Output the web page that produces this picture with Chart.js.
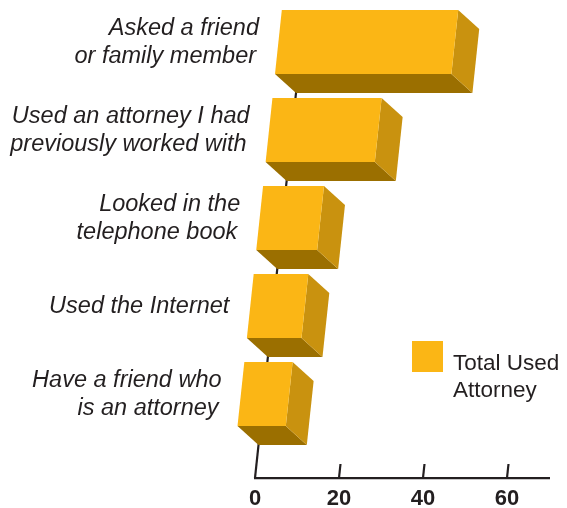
<!DOCTYPE html>
<html>
<head>
<meta charset="utf-8">
<script src="https://cdn.jsdelivr.net/npm/chart.js@4/dist/chart.umd.min.js"></script>
<style>
  body { margin: 0; background: #fff; }
  #wrap { width: 567px; height: 508px; }
</style>
</head>
<body>
<div id="wrap"><canvas id="chart" width="567" height="508"></canvas></div>
<script>
const categories = [
  ['Asked a friend', 'or family member'],
  ['Used an attorney I had', 'previously worked with'],
  ['Looked in the', 'telephone book'],
  ['Used the Internet'],
  ['Have a friend who', 'is an attorney']
];
const usedAttorney = [42, 26, 14.5, 13, 11.5];
const xTicks = [0, 20, 40, 60];
const seriesName = ['Total Used', 'Attorney'];

const frontColor = '#fbb615';
const sideColor = '#c9920f';
const bottomColor = '#9b6f00';
const inkColor = '#231f20';
const slant = 0.1065;   // how much the value axis leans to the right going up
const depth = { x: -21, y: -19 };
const lift = 21;

// draws the bars as boxes and the slanted axis
const boxPlugin = {
  id: 'box3d',
  beforeDatasetDraw() { return false; },
  afterDatasetsDraw(chart) {
    const ctx = chart.ctx;
    const area = chart.chartArea;
    const xScale = chart.scales.x;
    const floorY = area.bottom;
    const sx = y => slant * (floorY - y);
    const zero = xScale.getPixelForValue(0);

    ctx.save();
    ctx.strokeStyle = inkColor;
    ctx.lineWidth = 2.2;
    ctx.beginPath();
    ctx.moveTo(zero, floorY);
    ctx.lineTo(zero + sx(area.top), area.top);
    ctx.stroke();
    xTicks.slice(1).forEach(v => {
      const px = xScale.getPixelForValue(v);
      ctx.beginPath();
      ctx.moveTo(px, floorY);
      ctx.lineTo(px + sx(floorY - 14), floorY - 14);
      ctx.stroke();
    });

    const meta = chart.getDatasetMeta(0);
    meta.data.forEach((el, i) => {
      const p = el.getProps(['x', 'y', 'base', 'height'], true);
      const yb = p.y + p.height / 2 - lift;
      const yt = yb - p.height;
      const bbl = [p.base + sx(yb), yb], bbr = [p.x + sx(yb), yb];
      const btr = [p.x + sx(yt), yt], btl = [p.base + sx(yt), yt];
      const f = pt => [pt[0] + depth.x, pt[1] + depth.y];
      const fbl = f(bbl), fbr = f(bbr), ftr = f(btr), ftl = f(btl);
      const face = (pts, color) => {
        ctx.beginPath();
        ctx.moveTo(pts[0][0], pts[0][1]);
        pts.slice(1).forEach(q => ctx.lineTo(q[0], q[1]));
        ctx.closePath();
        ctx.fillStyle = color;
        ctx.fill();
      };
      face([fbl, fbr, bbr, bbl], bottomColor);
      face([ftr, btr, bbr, fbr], sideColor);
      face([ftl, ftr, fbr, fbl], frontColor);

      // category label, right aligned along the slanted front edge
      const lines = chart.data.labels[i];
      ctx.fillStyle = inkColor;
      ctx.font = 'italic 23.5px "Liberation Sans", Arial, sans-serif';
      ctx.textAlign = 'right';
      ctx.textBaseline = 'alphabetic';
      const fc = (ftl[1] + fbl[1]) / 2;
      lines.forEach((line, j) => {
        const by = fc + 7 - (lines.length - 1) * 14 + j * 28;
        const edge = p.base + sx(by - 8 - depth.y) + depth.x;
        ctx.fillText(line, edge - 21, by);
      });
    });

    // legend
    ctx.fillStyle = frontColor;
    ctx.fillRect(412, 341, 31, 31);
    ctx.fillStyle = inkColor;
    ctx.font = '22.5px "Liberation Sans", Arial, sans-serif';
    ctx.textAlign = 'left';
    ctx.fillText(seriesName[0], 453, 370);
    ctx.fillText(seriesName[1], 453, 397);
    ctx.restore();
  }
};

new Chart(document.getElementById('chart'), {
  type: 'bar',
  data: {
    labels: categories,
    datasets: [{
      label: seriesName.join(' '),
      data: usedAttorney,
      backgroundColor: frontColor,
      categoryPercentage: 1,
      barPercentage: 64 / 88
    }]
  },
  options: {
    indexAxis: 'y',
    responsive: false,
    animation: false,
    layout: { padding: { left: 255, right: 18, top: 38, bottom: 0 } },
    plugins: { legend: { display: false }, tooltip: { enabled: false } },
    scales: {
      x: {
        min: 0,
        max: 70,
        grid: { display: false, drawTicks: false },
        border: { display: true, color: inkColor, width: 2.2 },
        ticks: {
          stepSize: 20,
          padding: 8,
          color: inkColor,
          font: { family: '"Liberation Sans", Arial, sans-serif', size: 22, weight: 'bold' },
          callback: v => xTicks.includes(v) ? v : ''
        },
        afterFit: s => { s.height = 30; }
      },
      y: {
        grid: { display: false },
        border: { display: false },
        ticks: { display: false },
        afterFit: s => { s.width = 0; }
      }
    }
  },
  plugins: [boxPlugin]
});
</script>
</body>
</html>
